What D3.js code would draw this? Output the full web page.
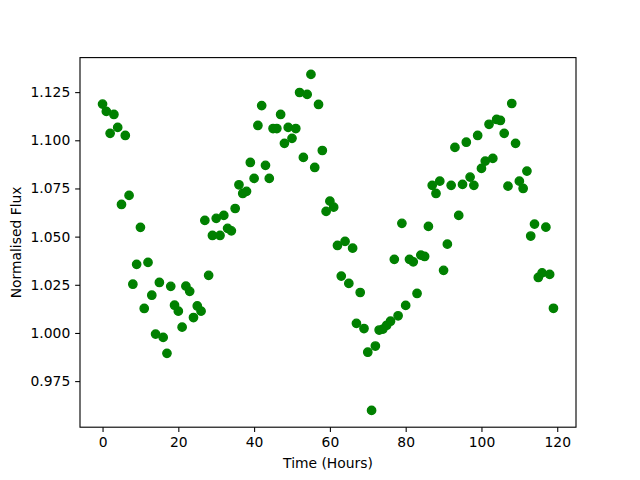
<!DOCTYPE html>
<html>
<head>
<meta charset="utf-8">
<script src="https://cdn.jsdelivr.net/npm/d3@7"></script>
<style>
  body { margin: 0; background: #fff; }
  text { font-family: "DejaVu Sans", sans-serif; fill: #000; }
  .axis path, .axis line { stroke: #000; stroke-width: 0.8pt; }
</style>
</head>
<body>
<svg id="chart" width="640" height="480"></svg>
<script>
// hours since start
const hours = d3.range(0, 120);
// normalised flux, one value per hour
const flux = [
  1.1188, 1.1150, 1.1036, 1.1134, 1.1067, 1.0667, 1.1025, 1.0714, 1.0253, 1.0356,
  1.0548, 1.0127, 1.0366, 1.0196, 0.9994, 1.0262, 0.9977, 0.9894, 1.0242, 1.0144,
  1.0113, 1.0030, 1.0243, 1.0216, 1.0080, 1.0140, 1.0113, 1.0584, 1.0299, 1.0506,
  1.0595, 1.0506, 1.0610, 1.0543, 1.0530, 1.0646, 1.0769, 1.0724, 1.0735, 1.0885,
  1.0802, 1.1077, 1.1180, 1.0870, 1.0802, 1.1061, 1.1061, 1.1134, 1.0984, 1.1067,
  1.1010, 1.1061, 1.1248, 1.0911, 1.1238, 1.1342, 1.0859, 1.1186, 1.0947, 1.0631,
  1.0684, 1.0653, 1.0454, 1.0295, 1.0475, 1.0257, 1.0440, 1.0050, 1.0210, 1.0023,
  0.9900, 0.9598, 0.9932, 1.0015, 1.0020, 1.0040, 1.0061, 1.0382, 1.0089, 1.0569,
  1.0143, 1.0382, 1.0369, 1.0205, 1.0404, 1.0397, 1.0553, 1.0766, 1.0724, 1.0788,
  1.0325, 1.0461, 1.0766, 1.0963, 1.0610, 1.0771, 1.0990, 1.0809, 1.0766, 1.1025,
  1.0854, 1.0892, 1.1083, 1.0906, 1.1108, 1.1103, 1.1036, 1.0762, 1.1191, 1.0984,
  1.0788, 1.0750, 1.0840, 1.0503, 1.0565, 1.0288, 1.0312, 1.0549, 1.0304, 1.0128
];
const xTicks = [0, 20, 40, 60, 80, 100, 120];
const yTicks = [0.975, 1.000, 1.025, 1.050, 1.075, 1.100, 1.125];

const dataset = hours.map((h, i) => ({ hour: h, flux: flux[i] }));

const width = 640, height = 480;
const margin = { top: 57.6, right: 64, bottom: 52.8, left: 80 };
const pt = 100 / 72;

const svg = d3.select('#chart');

// matplotlib-like 5% padding around data
function padded(ext) {
  const d = (ext[1] - ext[0]) * 0.05;
  return [ext[0] - d, ext[1] + d];
}

const xScale = d3.scaleLinear()
  .domain(padded(d3.extent(hours)))
  .range([margin.left, width - margin.right]);
const yScale = d3.scaleLinear()
  .domain(padded(d3.extent(flux)))
  .range([height - margin.bottom, margin.top]);

const tickLen = 3.5 * pt;
const fontPx = 10 * pt;

// points
svg.append('g')
  .selectAll('circle')
  .data(dataset)
  .enter()
  .append('circle')
  .attr('cx', d => xScale(d.hour))
  .attr('cy', d => yScale(d.flux))
  .attr('r', 3 * pt)
  .attr('fill', '#008000')
  .attr('stroke', '#008000')
  .attr('stroke-width', 1 * pt);

// frame
svg.append('rect')
  .attr('x', margin.left)
  .attr('y', margin.top)
  .attr('width', width - margin.left - margin.right)
  .attr('height', height - margin.top - margin.bottom)
  .attr('fill', 'none')
  .attr('stroke', '#000')
  .attr('stroke-width', 0.8 * pt);

const xAxis = d3.axisBottom(xScale).tickValues(xTicks).tickSize(tickLen).tickPadding(tickLen).tickSizeOuter(0);
svg.append('g')
  .attr('class', 'axis')
  .attr('transform', `translate(0, ${height - margin.bottom})`)
  .call(xAxis)
  .call(g => g.select('.domain').remove())
  .selectAll('text')
  .style('font-size', fontPx + 'px');

const yAxis = d3.axisLeft(yScale).tickValues(yTicks).tickFormat(d3.format('.3f'))
  .tickSize(tickLen).tickPadding(tickLen).tickSizeOuter(0);
svg.append('g')
  .attr('class', 'axis')
  .attr('transform', `translate(${margin.left}, 0)`)
  .call(yAxis)
  .call(g => g.select('.domain').remove())
  .selectAll('text')
  .style('font-size', fontPx + 'px');

svg.selectAll('.axis text').attr('fill', '#000');

// labels
svg.append('text')
  .attr('x', (margin.left + width - margin.right) / 2)
  .attr('y', 468)
  .attr('text-anchor', 'middle')
  .style('font-size', fontPx + 'px')
  .text('Time (Hours)');

svg.append('text')
  .attr('transform', `translate(21, ${(margin.top + height - margin.bottom) / 2}) rotate(-90)`)
  .attr('text-anchor', 'middle')
  .style('font-size', fontPx + 'px')
  .text('Normalised Flux');
</script>
</body>
</html>
